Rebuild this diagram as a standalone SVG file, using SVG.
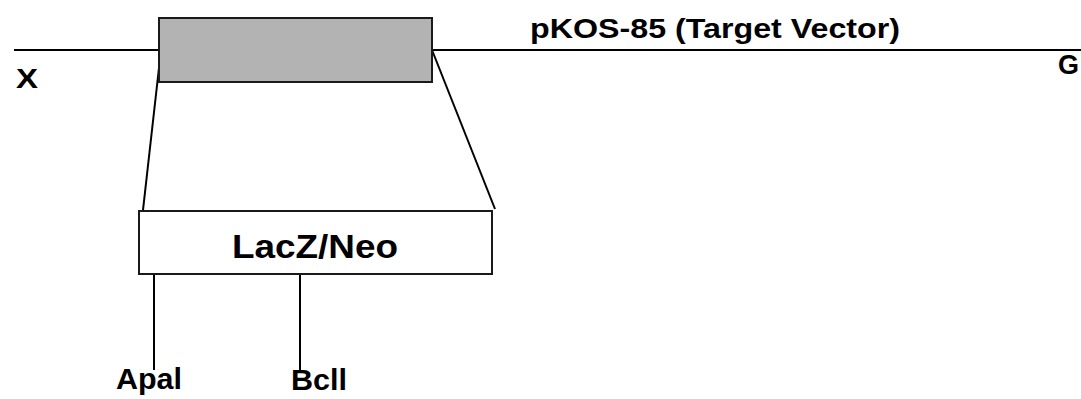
<svg xmlns="http://www.w3.org/2000/svg" width="1081" height="399" viewBox="0 0 1081 399">
<style>
.t{font-family:"Liberation Sans",Arial,sans-serif;font-weight:bold;fill:#000}
.ln{stroke:#000;stroke-width:2;fill:none}
.box{stroke:#1a1a1a;stroke-width:2}
</style>
<rect width="1081" height="399" fill="#fff"/>
<g id="connectors">
<line class="ln" x1="14" y1="50" x2="160" y2="50"/>
<line class="ln" x1="432" y1="50" x2="1081" y2="50"/>
<line class="ln" x1="161" y1="50" x2="143" y2="210"/>
<line class="ln" x1="432" y1="50" x2="495" y2="209"/>
<line class="ln" x1="154" y1="274" x2="154" y2="370"/>
<line class="ln" x1="300" y1="274" x2="300" y2="370"/>
</g>
<g id="target">
<rect class="box" x="159" y="18" width="273" height="64" fill="#b3b3b3"/>
</g>
<g id="lacz">
<rect class="box" x="139" y="211" width="353" height="63" fill="#fff"/>
<text class="t" x="232" y="258" font-size="34" textLength="166" lengthAdjust="spacingAndGlyphs">LacZ/Neo</text>
</g>
<g id="labels">
<text class="t" x="530" y="38" font-size="28" textLength="370" lengthAdjust="spacingAndGlyphs">pKOS-85 (Target Vector)</text>
<text class="t" x="16" y="88" font-size="28" textLength="22" lengthAdjust="spacingAndGlyphs">X</text>
<text class="t" x="1058" y="74" font-size="28" textLength="21" lengthAdjust="spacingAndGlyphs">G</text>
<text class="t" x="116" y="389" font-size="30" textLength="66" lengthAdjust="spacingAndGlyphs">Apal</text>
<text class="t" x="291" y="390" font-size="30" textLength="56" lengthAdjust="spacingAndGlyphs">Bcll</text>
</g>
</svg>
